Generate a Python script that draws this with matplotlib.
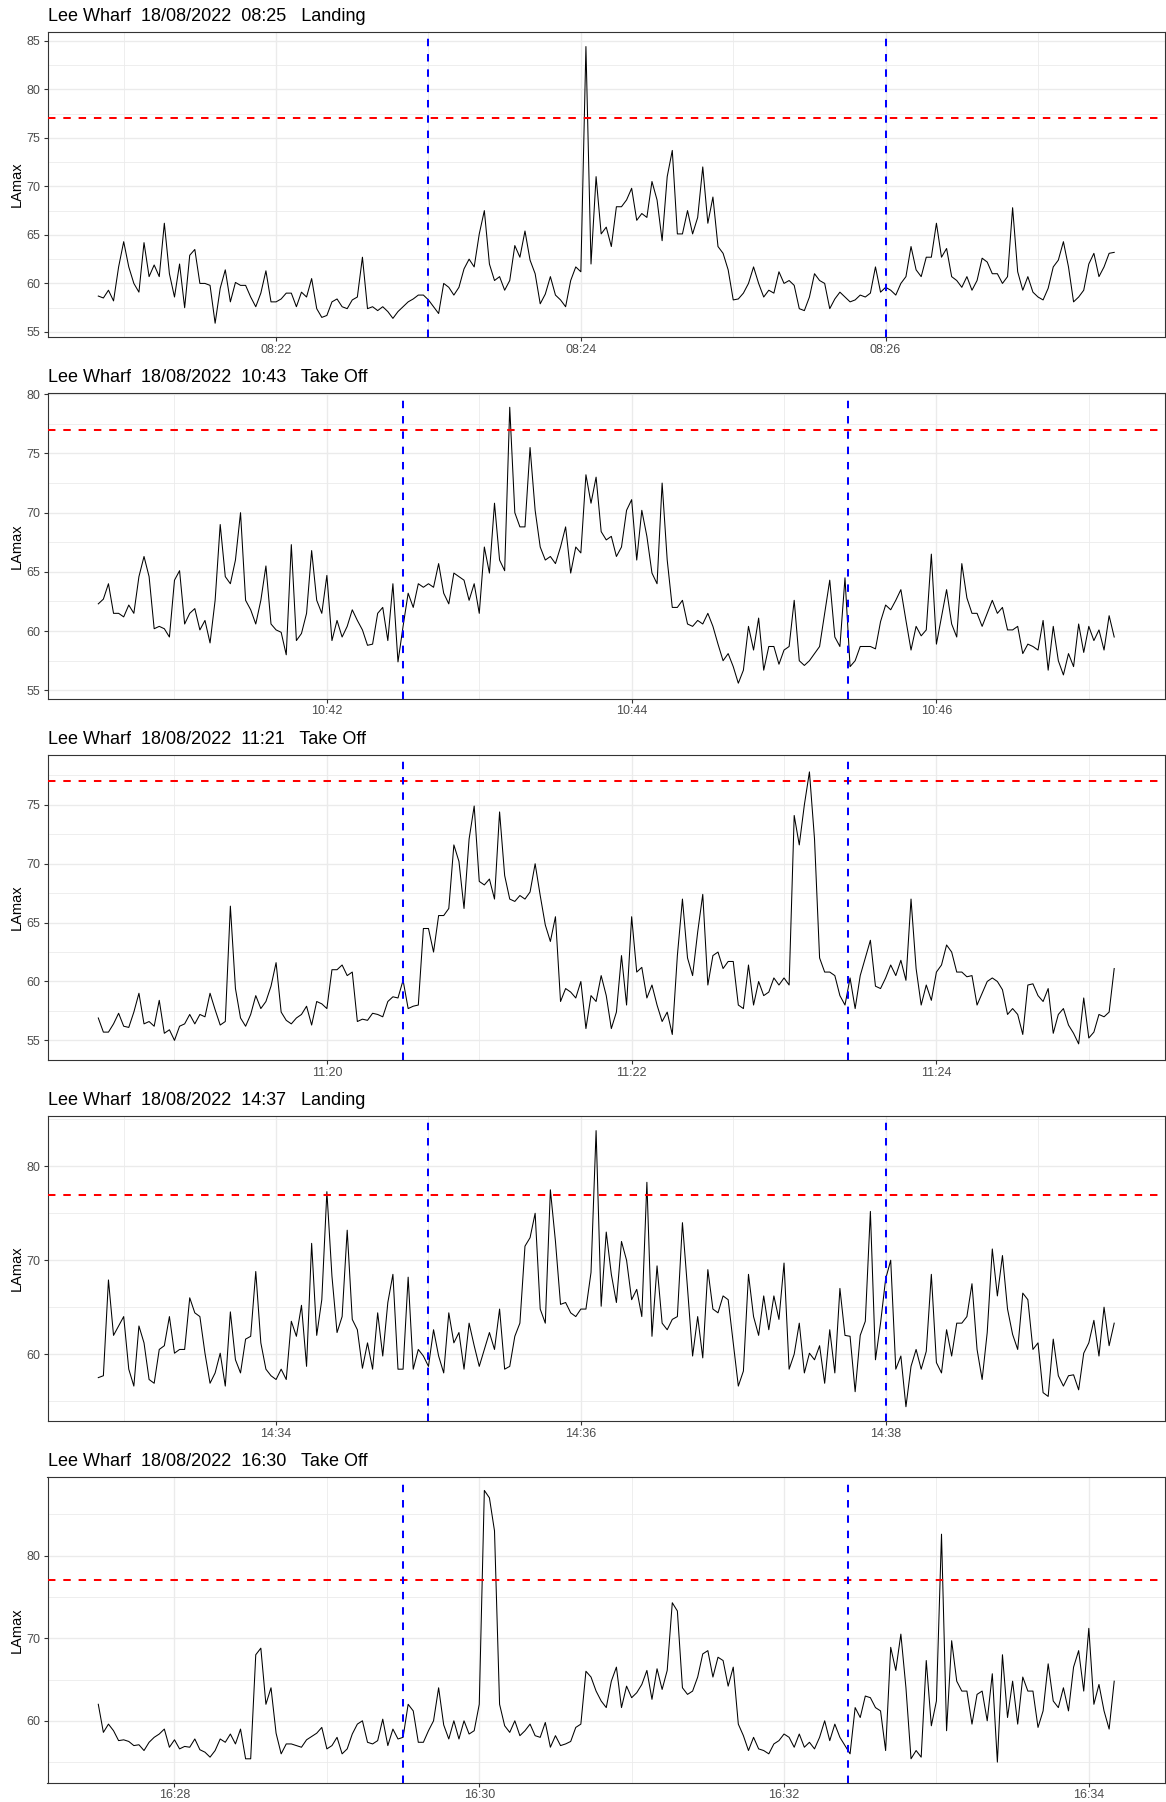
import numpy as np
import pandas as pd
import matplotlib
matplotlib.use("Agg")
import matplotlib.pyplot as plt
import matplotlib.dates as mdates
from matplotlib.ticker import MultipleLocator

plt.rcParams['font.family'] = ['Liberation Sans', 'DejaVu Sans']

# ---------------- data ----------------
titles = [
    "Lee Wharf  18/08/2022  08:25   Landing",
    "Lee Wharf  18/08/2022  10:43   Take Off",
    "Lee Wharf  18/08/2022  11:21   Take Off",
    "Lee Wharf  18/08/2022  14:37   Landing",
    "Lee Wharf  18/08/2022  16:30   Take Off",
]
start_times = ["2022-08-18 08:20:50", "2022-08-18 10:40:30", "2022-08-18 11:18:30",
               "2022-08-18 14:32:50", "2022-08-18 16:27:30"]
window_start = ["2022-08-18 08:23:00", "2022-08-18 10:42:30", "2022-08-18 11:20:30",
                "2022-08-18 14:35:00", "2022-08-18 16:29:30"]
window_end = ["2022-08-18 08:26:00", "2022-08-18 10:45:25", "2022-08-18 11:23:25",
              "2022-08-18 14:38:00", "2022-08-18 16:32:25"]
threshold = 77
sample_seconds = 2
y_label = "LAmax"

lamax_0825 = [
    58.7, 58.5, 59.3, 58.2, 61.7, 64.3, 61.7, 60.0, 59.1, 64.2,
    60.7, 61.9, 60.7, 66.2, 61.0, 58.6, 62.0, 57.5, 62.9, 63.5,
    60.0, 60.0, 59.8, 55.9, 59.5, 61.4, 58.1, 60.1, 59.8, 59.8,
    58.6, 57.6, 59.0, 61.3, 58.1, 58.1, 58.4, 59.0, 59.0, 57.6,
    59.1, 58.6, 60.5, 57.4, 56.5, 56.7, 58.1, 58.4, 57.6, 57.4,
    58.3, 58.6, 62.7, 57.4, 57.6, 57.2, 57.6, 57.1, 56.4, 57.1,
    57.6, 58.1, 58.4, 58.8, 58.8, 58.3, 57.6, 56.9, 60.0, 59.6,
    58.8, 59.6, 61.5, 62.5, 61.7, 65.1, 67.5, 62.0, 60.3, 60.7,
    59.3, 60.3, 63.9, 62.7, 65.4, 62.4, 61.0, 57.9, 58.9, 60.7,
    58.8, 58.3, 57.6, 60.3, 61.7, 61.2, 84.4, 62.0, 71.0, 65.1,
    65.8, 63.8, 67.9, 67.9, 68.6, 69.8, 66.5, 67.2, 66.8, 70.5,
    68.6, 64.4, 71.0, 73.7, 65.1, 65.1, 67.5, 65.1, 66.8, 72.0,
    66.2, 68.9, 63.8, 63.1, 61.4, 58.3, 58.4, 59.0, 60.0, 61.7,
    60.0, 58.6, 59.3, 59.0, 61.2, 60.0, 60.3, 59.8, 57.4, 57.2,
    58.6, 61.0, 60.3, 60.0, 57.4, 58.4, 59.1, 58.6, 58.1, 58.3,
    58.8, 58.6, 59.0, 61.7, 59.1, 59.6, 59.3, 58.8, 60.0, 60.7,
    63.8, 61.4, 60.7, 62.7, 62.7, 66.2, 62.7, 63.6, 60.7, 60.3,
    59.6, 60.7, 59.3, 60.3, 62.6, 62.2, 61.0, 61.0, 60.0, 60.7,
    67.8, 61.2, 59.3, 60.7, 59.1, 58.6, 58.3, 59.5, 61.7, 62.4,
    64.3, 61.7, 58.1, 58.6, 59.3, 62.0, 63.1, 60.7, 61.7, 63.1,
    63.2,
]
lamax_1043 = [
    62.3, 62.7, 64.0, 61.5, 61.5, 61.2, 62.2, 61.5, 64.6, 66.3,
    64.6, 60.2, 60.4, 60.2, 59.5, 64.3, 65.1, 60.6, 61.5, 61.9,
    60.1, 60.9, 59.0, 62.6, 69.0, 64.6, 64.0, 66.0, 70.0, 62.6,
    61.8, 60.6, 62.6, 65.5, 60.6, 60.1, 59.9, 58.0, 67.3, 59.2,
    59.8, 61.5, 66.8, 62.6, 61.5, 64.7, 59.2, 60.9, 59.5, 60.4,
    61.8, 60.9, 60.1, 58.8, 58.9, 61.5, 62.0, 59.2, 64.0, 57.4,
    60.4, 63.2, 62.0, 64.0, 63.7, 64.0, 63.7, 65.7, 63.2, 62.3,
    64.9, 64.6, 64.3, 62.6, 64.0, 61.5, 67.1, 64.9, 70.8, 66.0,
    65.1, 78.9, 70.0, 68.8, 68.8, 75.5, 70.2, 67.1, 66.0, 66.3,
    65.7, 67.1, 68.8, 64.9, 67.1, 66.6, 73.2, 70.8, 73.0, 68.4,
    67.7, 68.0, 66.3, 67.1, 70.2, 71.1, 66.0, 70.2, 68.0, 64.9,
    64.0, 72.5, 66.0, 62.0, 62.0, 62.6, 60.6, 60.4, 60.9, 60.6,
    61.5, 60.4, 58.9, 57.5, 58.1, 57.0, 55.6, 56.7, 60.4, 58.4,
    61.1, 56.7, 58.7, 58.7, 57.2, 58.4, 58.7, 62.6, 57.5, 57.1,
    57.5, 58.1, 58.7, 61.5, 64.3, 59.5, 58.7, 64.5, 57.0, 57.5,
    58.7, 58.7, 58.7, 58.5, 60.8, 62.2, 61.8, 62.6, 63.5, 60.9,
    58.4, 60.4, 59.6, 60.1, 66.5, 58.9, 61.2, 63.5, 60.6, 59.5,
    65.7, 62.8, 61.5, 61.5, 60.4, 61.5, 62.6, 61.5, 62.0, 60.1,
    60.1, 60.4, 58.1, 58.9, 58.7, 58.4, 60.9, 56.7, 60.4, 57.5,
    56.3, 58.1, 57.0, 60.6, 58.2, 60.4, 59.2, 60.1, 58.4, 61.3,
    59.5,
]
lamax_1121 = [
    56.9, 55.7, 55.7, 56.4, 57.3, 56.2, 56.1, 57.4, 59.0, 56.4,
    56.6, 56.2, 58.4, 55.6, 55.9, 55.0, 56.2, 56.4, 57.2, 56.4,
    57.2, 57.0, 59.0, 57.6, 56.3, 56.6, 66.4, 59.4, 56.9, 56.2,
    57.2, 58.8, 57.7, 58.3, 59.6, 61.6, 57.4, 56.7, 56.4, 56.9,
    57.2, 57.9, 56.3, 58.3, 58.1, 57.7, 61.0, 61.0, 61.4, 60.5,
    60.8, 56.6, 56.8, 56.7, 57.3, 57.2, 57.0, 58.3, 58.7, 58.6,
    60.1, 57.7, 57.9, 58.0, 64.5, 64.5, 62.5, 65.6, 65.6, 66.2,
    71.6, 70.2, 66.2, 72.1, 74.9, 68.5, 68.2, 68.7, 67.0, 74.4,
    69.0, 67.0, 66.8, 67.3, 67.0, 67.6, 70.0, 67.3, 64.8, 63.4,
    65.5, 58.3, 59.4, 59.1, 58.6, 60.0, 56.0, 58.8, 58.3, 60.5,
    58.8, 56.0, 57.4, 62.2, 58.0, 65.5, 60.8, 61.2, 58.6, 59.7,
    58.0, 56.6, 57.4, 55.5, 62.2, 67.0, 62.0, 60.5, 64.2, 67.4,
    59.7, 62.2, 62.5, 61.1, 61.7, 61.7, 58.0, 57.7, 61.4, 58.0,
    60.0, 58.8, 59.1, 60.3, 59.7, 60.3, 59.7, 74.1, 71.6, 75.0,
    77.8, 72.1, 62.0, 60.8, 60.8, 60.5, 58.8, 58.0, 60.3, 57.7,
    60.5, 62.0, 63.5, 59.6, 59.4, 60.3, 61.4, 60.5, 61.8, 60.1,
    67.0, 61.1, 58.0, 59.7, 58.4, 60.8, 61.4, 63.1, 62.5, 60.8,
    60.8, 60.4, 60.5, 58.0, 59.0, 60.0, 60.3, 60.0, 59.3, 57.2,
    57.7, 57.2, 55.5, 59.7, 59.8, 58.8, 58.3, 59.4, 55.6, 57.2,
    57.7, 56.3, 55.6, 54.7, 58.6, 55.2, 55.7, 57.2, 57.0, 57.4,
    61.1,
]
lamax_1437 = [
    57.5, 57.7, 67.9, 62.0, 63.0, 64.0, 58.4, 56.6, 63.0, 61.2,
    57.3, 56.9, 60.5, 60.9, 64.0, 60.1, 60.5, 60.5, 66.0, 64.4,
    64.0, 60.1, 56.9, 58.0, 60.1, 56.6, 64.5, 59.4, 58.0, 61.6,
    61.9, 68.8, 61.2, 58.4, 57.7, 57.3, 58.4, 57.3, 63.5, 61.9,
    65.2, 58.7, 71.8, 62.0, 65.8, 77.3, 68.3, 62.3, 64.0, 73.2,
    63.7, 62.6, 58.5, 61.2, 58.4, 64.4, 59.8, 65.5, 68.5, 58.4,
    58.4, 68.2, 58.4, 60.5, 59.8, 58.7, 62.6, 59.8, 58.0, 64.4,
    61.2, 62.3, 58.4, 63.3, 60.9, 58.7, 60.5, 62.3, 60.5, 64.8,
    58.4, 58.7, 61.9, 63.3, 71.5, 72.4, 75.0, 64.8, 63.3, 77.5,
    72.0, 65.3, 65.5, 64.4, 64.0, 64.8, 64.8, 68.7, 83.8, 65.1,
    73.0, 68.5, 65.5, 72.0, 70.0, 65.8, 66.9, 64.0, 78.3, 61.9,
    69.4, 63.3, 62.6, 63.7, 64.0, 74.0, 67.0, 59.8, 64.0, 59.6,
    69.0, 64.8, 64.4, 66.2, 65.8, 61.2, 56.6, 58.2, 68.5, 64.0,
    62.0, 66.2, 62.6, 66.2, 63.7, 69.7, 58.4, 60.0, 63.3, 58.0,
    60.1, 59.4, 60.9, 56.9, 62.6, 58.0, 67.0, 62.0, 61.9, 56.0,
    62.0, 63.5, 75.2, 59.4, 63.3, 68.0, 70.0, 58.4, 59.8, 54.4,
    58.7, 60.5, 58.4, 60.3, 68.5, 59.1, 58.0, 62.6, 59.8, 63.3,
    63.3, 64.0, 67.5, 60.5, 57.3, 62.3, 71.2, 66.2, 70.5, 64.8,
    62.1, 60.5, 66.5, 65.8, 60.5, 61.2, 55.9, 55.5, 61.6, 57.7,
    56.6, 57.7, 57.8, 56.2, 60.1, 61.2, 63.6, 59.8, 65.0, 60.9,
    63.3,
]
lamax_1630 = [
    62.0, 58.6, 59.6, 58.8, 57.6, 57.7, 57.5, 57.0, 57.1, 56.4,
    57.4, 58.0, 58.4, 59.0, 56.8, 57.7, 56.6, 56.9, 56.8, 57.8,
    56.5, 56.2, 55.6, 56.4, 57.8, 57.4, 58.4, 57.2, 59.0, 55.4,
    55.4, 68.0, 68.8, 62.0, 64.0, 58.5, 56.0, 57.2, 57.2, 57.0,
    56.8, 57.7, 58.1, 58.5, 59.2, 56.6, 57.0, 58.0, 56.0, 56.6,
    58.4, 59.6, 60.0, 57.4, 57.2, 57.6, 60.2, 57.0, 59.0, 57.8,
    58.0, 62.0, 61.2, 57.4, 57.4, 58.8, 60.0, 64.0, 59.5, 57.8,
    60.0, 57.8, 60.0, 58.4, 58.8, 62.0, 87.9, 87.0, 83.0, 62.0,
    59.4, 58.6, 60.0, 58.2, 58.8, 59.6, 58.2, 58.0, 59.8, 56.8,
    58.2, 57.0, 57.2, 57.5, 59.2, 59.6, 66.0, 65.3, 63.6, 62.4,
    61.6, 64.8, 66.5, 61.6, 64.2, 62.8, 63.4, 64.4, 66.1, 62.6,
    66.3, 63.8, 66.1, 74.3, 73.3, 64.0, 63.2, 63.6, 65.3, 68.1,
    68.5, 65.3, 67.7, 67.3, 64.2, 66.5, 59.6, 58.2, 56.4, 58.0,
    56.6, 56.4, 56.0, 57.2, 57.6, 58.4, 58.0, 56.8, 58.4, 56.8,
    57.4, 56.6, 58.0, 60.0, 57.6, 59.6, 58.0, 57.0, 56.0, 61.6,
    60.4, 63.0, 62.8, 61.6, 61.2, 56.4, 68.9, 66.1, 70.5, 64.0,
    55.4, 56.4, 55.6, 67.3, 59.4, 62.4, 82.6, 58.8, 69.7, 64.8,
    63.6, 63.6, 59.6, 63.2, 63.6, 60.0, 65.7, 55.0, 68.0, 60.4,
    64.8, 59.6, 65.3, 63.6, 63.6, 59.2, 61.2, 66.9, 62.4, 61.6,
    64.0, 61.2, 66.5, 68.5, 63.6, 71.2, 62.0, 64.4, 61.2, 59.0,
    64.8,
]
series = [lamax_0825, lamax_1043, lamax_1121, lamax_1437, lamax_1630]

# axis configuration (per panel)
y_limits = [(54.45, 85.9), (54.3, 80.08), (53.34, 79.27), (52.86, 85.37), (52.53, 89.5)]
y_major_step = [5, 5, 5, 10, 10]

# ---------------- layout ----------------
W, H = 1166, 1802
fig = plt.figure(figsize=(W / 100, H / 100), dpi=100)
fig.patch.set_facecolor("white")

ax_left, ax_right = 47.5, 1165.0
ax_top0, ax_h, ax_gap = 32.0, 305.3, 361.3

for i, (vals, title) in enumerate(zip(series, titles)):
    top = ax_top0 + i * ax_gap
    ax = fig.add_axes([ax_left / W, 1 - (top + ax_h) / H,
                       (ax_right - ax_left) / W, ax_h / H])
    t0 = pd.Timestamp(start_times[i])
    x = t0 + pd.to_timedelta(np.arange(len(vals)) * sample_seconds, unit="s")
    y = np.array(vals)

    ax.plot(x, y, color="black", lw=0.75, zorder=2)
    dash = (0, (3.7, 3.9))
    ax.axhline(threshold, color="#FF0000", lw=1.45, ls=dash, zorder=3)
    for tv in (window_start[i], window_end[i]):
        ax.axvline(pd.Timestamp(tv), color="#0000FF", lw=1.45, ls=dash, zorder=3)

    span = x[-1] - x[0]
    ax.set_xlim(x[0] - span * 0.05, x[-1] + span * 0.05)
    ax.set_ylim(*y_limits[i])

    ax.xaxis.set_major_locator(mdates.MinuteLocator(byminute=range(0, 60, 2)))
    ax.xaxis.set_minor_locator(mdates.MinuteLocator(byminute=range(1, 60, 2)))
    ax.xaxis.set_major_formatter(mdates.DateFormatter("%H:%M"))
    ax.yaxis.set_major_locator(MultipleLocator(y_major_step[i]))
    ax.yaxis.set_minor_locator(MultipleLocator(y_major_step[i] / 2))

    ax.set_axisbelow(True)
    ax.grid(which="major", color="#EBEBEB", lw=1.0)
    ax.grid(which="minor", color="#EBEBEB", lw=0.6)

    for sp in ax.spines.values():
        sp.set_color("#333333")
        sp.set_linewidth(0.8)
    ax.tick_params(which="major", length=2.75, width=0.8, color="#333333",
                   labelsize=9, labelcolor="#4D4D4D", pad=2.2)
    ax.tick_params(which="minor", length=0)

    fig.text(ax_left / W, 1 - (top - 15.5) / H, title, ha="left", va="center",
             fontsize=13, color="black")
    fig.text(17.2 / W, 1 - (top + ax_h / 2) / H, y_label, rotation=90,
             ha="center", va="center", fontsize=10.5, color="black")

fig.savefig("out.png", dpi=100, facecolor="white")
